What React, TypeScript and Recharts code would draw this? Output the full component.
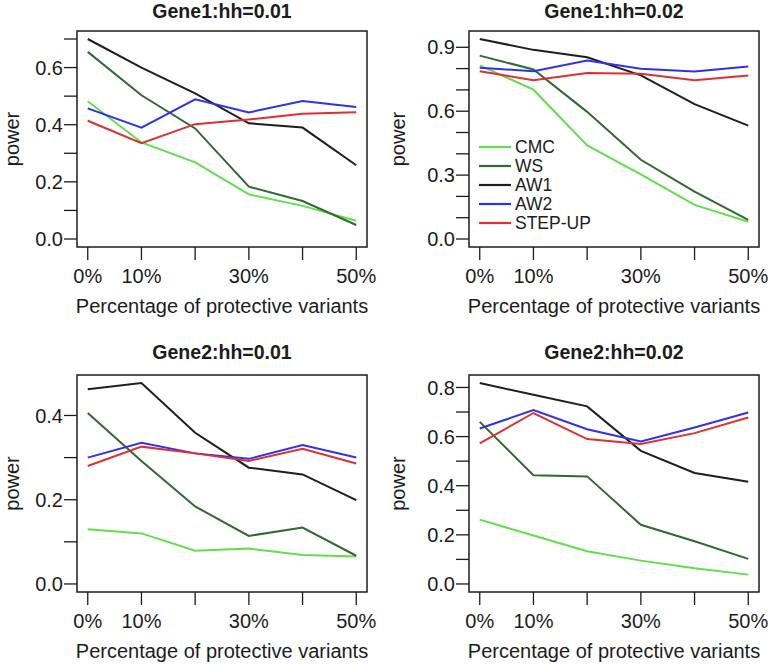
import { LineChart, Line, XAxis, YAxis } from 'recharts';

const X_PCT = [0, 10, 20, 30, 40, 50];
const X_TICK_LABELS = ['0%', '10%', '', '30%', '', '50%'];

const SERIES = ['CMC', 'WS', 'AW1', 'AW2', 'STEP-UP'];
const COLORS = ['#5fe04a', '#2f6a2f', '#1e1e1e', '#3030ee', '#df3030'];

// Gene1, hh = 0.01
const G1_01_CMC = [0.482, 0.338, 0.268, 0.156, 0.116, 0.064];
const G1_01_WS = [0.655, 0.503, 0.387, 0.183, 0.133, 0.049];
const G1_01_AW1 = [0.7, 0.6, 0.51, 0.405, 0.39, 0.258];
const G1_01_AW2 = [0.457, 0.39, 0.489, 0.443, 0.483, 0.462];
const G1_01_STEPUP = [0.414, 0.335, 0.402, 0.418, 0.438, 0.444];

// Gene1, hh = 0.02
const G1_02_CMC = [0.815, 0.701, 0.439, 0.303, 0.16, 0.081];
const G1_02_WS = [0.861, 0.796, 0.597, 0.372, 0.222, 0.09];
const G1_02_AW1 = [0.939, 0.888, 0.853, 0.768, 0.633, 0.532];
const G1_02_AW2 = [0.804, 0.788, 0.838, 0.799, 0.787, 0.81];
const G1_02_STEPUP = [0.788, 0.745, 0.779, 0.776, 0.745, 0.768];

// Gene2, hh = 0.01
const G2_01_CMC = [0.13, 0.12, 0.079, 0.084, 0.069, 0.065];
const G2_01_WS = [0.406, 0.292, 0.184, 0.114, 0.134, 0.067];
const G2_01_AW1 = [0.462, 0.477, 0.359, 0.276, 0.26, 0.199];
const G2_01_AW2 = [0.3, 0.335, 0.31, 0.297, 0.33, 0.3];
const G2_01_STEPUP = [0.28, 0.326, 0.31, 0.292, 0.321, 0.286];

// Gene2, hh = 0.02
const G2_02_CMC = [0.262, 0.197, 0.133, 0.095, 0.064, 0.038];
const G2_02_WS = [0.66, 0.443, 0.438, 0.241, 0.174, 0.102];
const G2_02_AW1 = [0.818, 0.77, 0.723, 0.542, 0.452, 0.416];
const G2_02_AW2 = [0.633, 0.708, 0.63, 0.58, 0.637, 0.698];
const G2_02_STEPUP = [0.572, 0.696, 0.59, 0.57, 0.614, 0.678];

const G1_01_YTICKS = [0, 0.1, 0.2, 0.3, 0.4, 0.5, 0.6, 0.7];
const G1_01_YLABELS = ['0.0', '', '0.2', '', '0.4', '', '0.6', ''];
const G1_02_YTICKS = [0, 0.1, 0.2, 0.3, 0.4, 0.5, 0.6, 0.7, 0.8, 0.9];
const G1_02_YLABELS = ['0.0', '', '', '0.3', '', '', '0.6', '', '', '0.9'];
const G2_01_YTICKS = [0, 0.1, 0.2, 0.3, 0.4];
const G2_01_YLABELS = ['0.0', '', '0.2', '', '0.4'];
const G2_02_YTICKS = [0, 0.1, 0.2, 0.3, 0.4, 0.5, 0.6, 0.7, 0.8];
const G2_02_YLABELS = ['0.0', '', '0.2', '', '0.4', '', '0.6', '', '0.8'];

const FONT = '"Liberation Sans", Arial, Helvetica, sans-serif';
const INK = '#1c1c1c';

function toRows(cols: number[][]) {
  return X_PCT.map((x, i) => {
    const row: Record<string, number> = { x };
    SERIES.forEach((s, k) => (row[s] = cols[k][i]));
    return row;
  });
}

const PANELS = [
  {
    title: 'Gene1:hh=0.01',
    rows: toRows([G1_01_CMC, G1_01_WS, G1_01_AW1, G1_01_AW2, G1_01_STEPUP]),
    yTicks: G1_01_YTICKS, yLabels: G1_01_YLABELS,
    left: 0, top: 0, box: { x0: 77, x1: 367, y0: 31, y1: 247 }, titleY: 18, legend: false,
  },
  {
    title: 'Gene1:hh=0.02',
    rows: toRows([G1_02_CMC, G1_02_WS, G1_02_AW1, G1_02_AW2, G1_02_STEPUP]),
    yTicks: G1_02_YTICKS, yLabels: G1_02_YLABELS,
    left: 386, top: 0, box: { x0: 469, x1: 759, y0: 31, y1: 247 }, titleY: 18, legend: true,
  },
  {
    title: 'Gene2:hh=0.01',
    rows: toRows([G2_01_CMC, G2_01_WS, G2_01_AW1, G2_01_AW2, G2_01_STEPUP]),
    yTicks: G2_01_YTICKS, yLabels: G2_01_YLABELS,
    left: 0, top: 332, box: { x0: 77, x1: 367, y0: 375, y1: 592 }, titleY: 359, legend: false,
  },
  {
    title: 'Gene2:hh=0.02',
    rows: toRows([G2_02_CMC, G2_02_WS, G2_02_AW1, G2_02_AW2, G2_02_STEPUP]),
    yTicks: G2_02_YTICKS, yLabels: G2_02_YLABELS,
    left: 386, top: 332, box: { x0: 469, x1: 759, y0: 375, y1: 592 }, titleY: 359, legend: false,
  },
];

const W = 386;
const H = 332;

function Panel({ p }: { p: (typeof PANELS)[number] }) {
  const ymax = Math.max(...p.rows.flatMap((r) => SERIES.map((s) => r[s])));
  const lo = -0.04 * ymax;
  const hi = 1.04 * ymax;
  const { box } = p;
  return (
    <div style={{ position: 'absolute', left: p.left, top: p.top }}>
      <LineChart
        width={W}
        height={H}
        data={p.rows}
        margin={{ top: box.y0 - p.top, right: p.left + W - box.x1, bottom: 0, left: 0 }}
      >
        <XAxis
          type="number"
          dataKey="x"
          domain={[-2, 52]}
          ticks={X_PCT}
          interval={0}
          tickFormatter={(v: number) => X_TICK_LABELS[X_PCT.indexOf(v)] ?? ''}
          height={H - (box.y1 - p.top)}
          axisLine={false}
          tickSize={13}
          tickMargin={9}
          tickLine={{ stroke: INK, strokeWidth: 1.3 }}
          tick={{ fill: INK, fontSize: 20, fontFamily: FONT }}
        />
        <YAxis
          type="number"
          domain={[lo, hi]}
          allowDataOverflow
          ticks={p.yTicks}
          interval={0}
          tickFormatter={(v: number) => {
            const i = p.yTicks.findIndex((t) => Math.abs(t - v) < 1e-6);
            return i >= 0 ? p.yLabels[i] : '';
          }}
          width={box.x0 - p.left}
          axisLine={false}
          tickSize={13}
          tickMargin={1}
          tickLine={{ stroke: INK, strokeWidth: 1.3 }}
          tick={{ fill: INK, fontSize: 20, fontFamily: FONT }}
        />
        {SERIES.map((s, k) => (
          <Line
            key={s}
            dataKey={s}
            stroke={COLORS[k]}
            strokeWidth={2}
            dot={false}
            isAnimationActive={false}
          />
        ))}
      </LineChart>
    </div>
  );
}

const LEGEND_ROWS_Y = [147, 166, 185, 204, 223];

export default function App() {
  return (
    <div
      style={{
        position: 'absolute',
        left: 0,
        top: 0,
        width: 772,
        height: 664,
        background: '#fff',
        fontFamily: FONT,
      }}
    >
      {PANELS.map((p) => (
        <Panel key={p.title} p={p} />
      ))}
      <svg
        width={772}
        height={664}
        style={{ position: 'absolute', left: 0, top: 0, pointerEvents: 'none' }}
        fontFamily={FONT}
      >
        {PANELS.map((p) => {
          const { box } = p;
          const cx = (box.x0 + box.x1) / 2;
          const cy = (box.y0 + box.y1) / 2;
          const ylx = p.left + 19;
          return (
            <g key={p.title}>
              <rect
                x={box.x0}
                y={box.y0}
                width={box.x1 - box.x0}
                height={box.y1 - box.y0}
                fill="none"
                stroke={INK}
                strokeWidth={1.5}
              />
              <text x={cx} y={p.titleY} textAnchor="middle" fontSize={19.5} fontWeight="bold" fill={INK}>
                {p.title}
              </text>
              <text x={cx} y={box.y1 + 66} textAnchor="middle" fontSize={20} fill={INK}>
                Percentage of protective variants
              </text>
              <text
                x={ylx}
                y={cy}
                textAnchor="middle"
                fontSize={20}
                fill={INK}
                transform={`rotate(-90 ${ylx} ${cy})`}
              >
                power
              </text>
              {p.legend &&
                SERIES.map((s, k) => (
                  <g key={s}>
                    <line
                      x1={box.x0 + 10}
                      x2={box.x0 + 42}
                      y1={LEGEND_ROWS_Y[k]}
                      y2={LEGEND_ROWS_Y[k]}
                      stroke={COLORS[k]}
                      strokeWidth={2.2}
                    />
                    <text x={box.x0 + 46} y={LEGEND_ROWS_Y[k] + 6} fontSize={17.5} fill={INK}>
                      {s}
                    </text>
                  </g>
                ))}
            </g>
          );
        })}
      </svg>
    </div>
  );
}
